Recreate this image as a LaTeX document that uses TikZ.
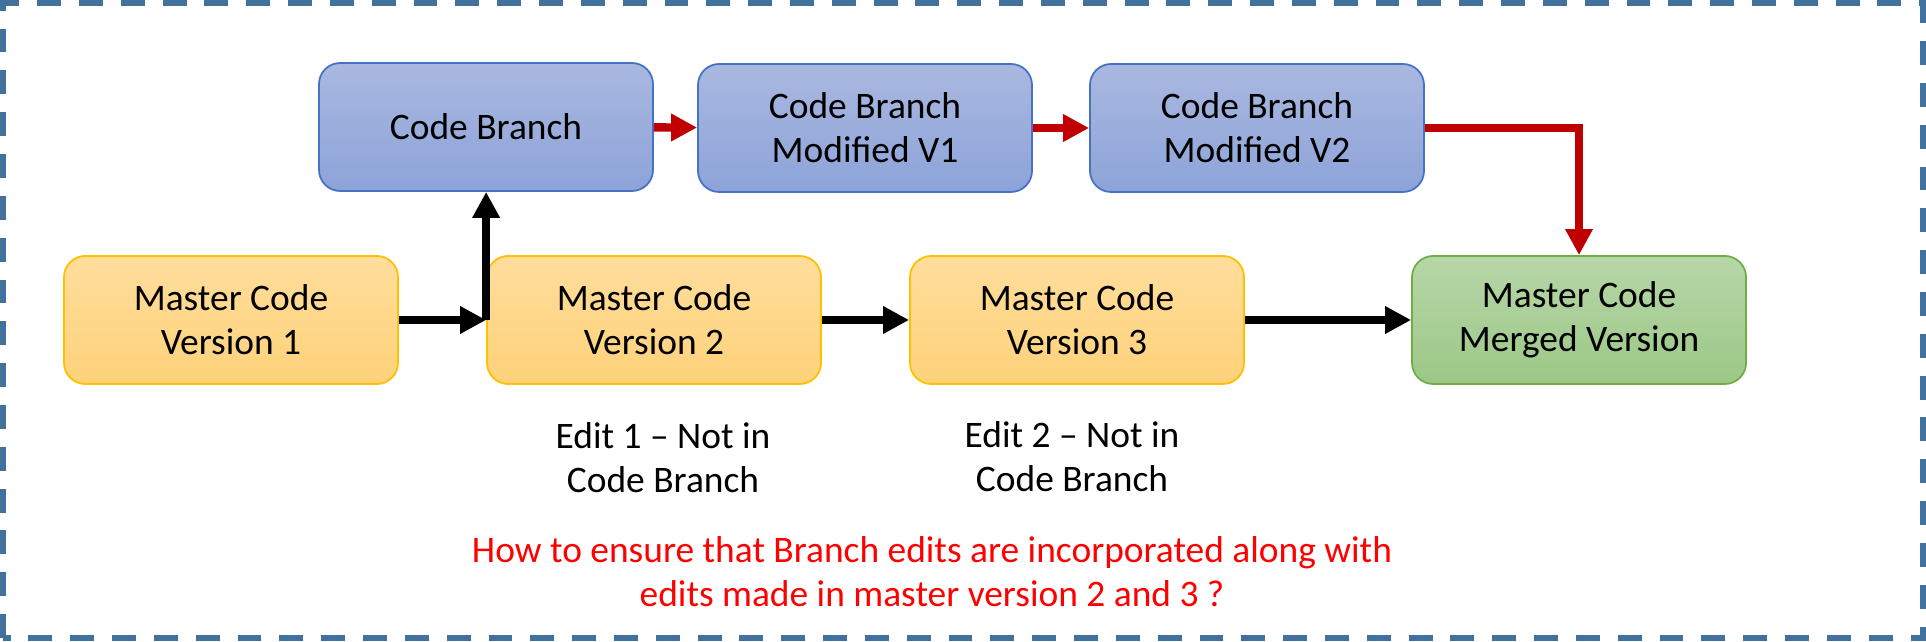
\documentclass[tikz,border=0pt]{standalone}
\usepackage{fontspec}
\setmainfont{Carlito}
\usetikzlibrary{arrows.meta,positioning}
\definecolor{skytop}{RGB}{169,184,224}
\definecolor{skybot}{RGB}{141,163,216}
\definecolor{skyline}{RGB}{68,114,196}
\definecolor{suntop}{RGB}{255,221,156}
\definecolor{sunbot}{RGB}{254,210,122}
\definecolor{sunline}{RGB}{255,192,0}
\definecolor{mosstop}{RGB}{183,214,168}
\definecolor{mossbot}{RGB}{156,200,134}
\definecolor{mossline}{RGB}{112,173,71}
\definecolor{frameblue}{RGB}{65,113,156}
\definecolor{darkred}{RGB}{192,0,0}
\tikzset{
  box/.style={draw=#1line,top color=#1top,bottom color=#1bot,rounded corners=6pt,
    line width=0.5pt,minimum width=33.4mm,minimum height=12.8mm,align=center,
    font=\fontsize{10.65}{12.5}\selectfont},
  box/.default=sky,
  flow/.style={-{Triangle[length=7.4pt,width=7.4pt]},line width=2.2pt,draw=#1},
  flow/.default=black,
  tag/.style={align=center,text=#1,font=\fontsize{10.65}{12.5}\selectfont},
  tag/.default=black,
  frame/.style={draw=frameblue,line width=1.5pt,dash pattern=on 6.8pt off 5.1pt},
}
\begin{document}
\begin{tikzpicture}
  \useasboundingbox (0,0) rectangle (19.26,6.41);
  \draw[frame] (0.03,0.03) rectangle (19.23,6.38);
  % branch row
  \node[box] (br) at (4.86,5.14) {Code Branch};
  \node[box] (mod1) at (8.65,5.13) {Code Branch\\Modified V1};
  \node[box] (mod2) at (12.57,5.13) {Code Branch\\Modified V2};
  % master row
  \node[box=sun] (v1) at (2.31,3.21) {Master Code\\Version 1};
  \node[box=sun] (v2) at (6.54,3.21) {Master Code\\Version 2};
  \node[box=sun] (v3) at (10.77,3.21) {Master Code\\Version 3};
  \node[box=moss] (mrg) at (15.79,3.21) {Master Code\\Merged Version};
  \draw[flow] (v1) -- (v2);
  \draw[flow] (v2.west) -- (v2.west |- br.south);
  \draw[flow] (v2) -- (v3);
  \draw[flow] (v3) -- (mrg);
  \draw[flow=darkred,line width=2.4pt] (br) -- (mod1);
  \draw[flow=darkred,line width=2.4pt] (mod1) -- (mod2);
  \draw[flow=darkred,line width=2.4pt] (mod2.east) -| (mrg.north);
  % notes
  \node[tag] (e1) at (6.63,1.83) {Edit 1 -- Not in\\Code Branch};
  \node[tag] (e2) at (10.72,1.845) {Edit 2 -- Not in\\Code Branch};
  \node[tag=red] (ask) at (9.32,0.69) {How to ensure that Branch edits are incorporated along with\\edits made in master version 2 and 3 ?};
\end{tikzpicture}
\end{document}
